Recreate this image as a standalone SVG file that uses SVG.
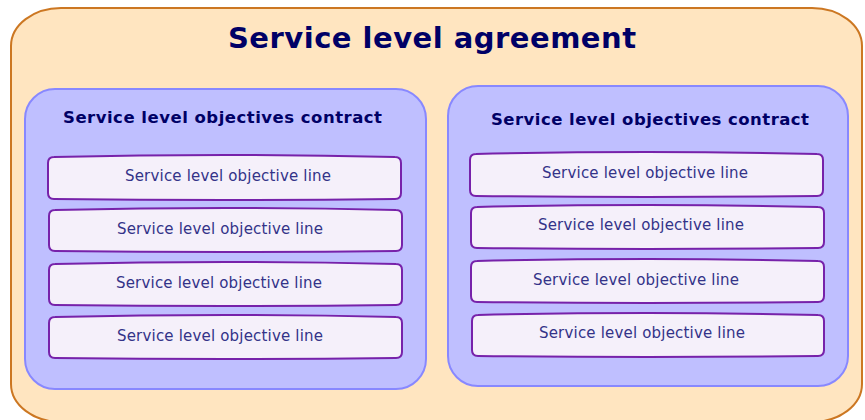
<svg xmlns="http://www.w3.org/2000/svg" width="865" height="420" viewBox="0 0 865 420">
<style>
.outer{fill:#FFE5C0;stroke:#CC7722;stroke-width:2}
.contract{fill:#BFBFFF;stroke:#8888FF;stroke-width:2}
.line{fill:#F5F0FA;stroke:#7722AA;stroke-width:2}
.t1{font-family:"DejaVu Sans",Verdana,sans-serif;font-weight:bold;font-size:29px;fill:#000066;text-anchor:middle}
.t2{font-family:"DejaVu Sans",Verdana,sans-serif;font-weight:bold;font-size:16.5px;fill:#000066;text-anchor:middle}
.t3{font-family:"DejaVu Sans",Verdana,sans-serif;font-size:15px;fill:#333388;text-anchor:middle}
</style>
<g id="sla">
<rect class="outer" x="11" y="8" width="851" height="414" rx="50" ry="38"/>
<text class="t1" x="432" y="48" textLength="408" lengthAdjust="spacing">Service level agreement</text>
</g>
<g id="contract1">
<rect class="contract" x="25" y="89" width="401" height="300" rx="30" ry="30"/>
<text class="t2" x="222.5" y="123" textLength="319" lengthAdjust="spacing">Service level objectives contract</text>
</g>
<g id="contract2">
<rect class="contract" x="448" y="86" width="400" height="300" rx="30" ry="30"/>
<text class="t2" x="650" y="125" textLength="318" lengthAdjust="spacing">Service level objectives contract</text>
</g>
<g id="line-l1">
<path class="line" d="M48,163 Q48,157 54,157 Q224.5,153 395,157 Q401,157 401,163 L401,193 Q401,199 395,199 Q224.5,201 54,199 Q48,199 48,193 Z"/>
<text class="t3" x="228" y="181" textLength="206" lengthAdjust="spacing">Service level objective line</text>
</g>
<g id="line-l2">
<path class="line" d="M49,216 Q49,210 55,210 Q225.5,206 396,210 Q402,210 402,216 L402,245 Q402,251 396,251 Q225.5,253 55,251 Q49,251 49,245 Z"/>
<text class="t3" x="220" y="234" textLength="206" lengthAdjust="spacing">Service level objective line</text>
</g>
<g id="line-l3">
<path class="line" d="M49,270 Q49,264 55,264 Q225.5,260 396,264 Q402,264 402,270 L402,299 Q402,305 396,305 Q225.5,307 55,305 Q49,305 49,299 Z"/>
<text class="t3" x="219" y="288" textLength="206" lengthAdjust="spacing">Service level objective line</text>
</g>
<g id="line-l4">
<path class="line" d="M49,323 Q49,317 55,317 Q225.5,313 396,317 Q402,317 402,323 L402,352 Q402,358 396,358 Q225.5,360 55,358 Q49,358 49,352 Z"/>
<text class="t3" x="220" y="341" textLength="206" lengthAdjust="spacing">Service level objective line</text>
</g>
<g id="line-r1">
<path class="line" d="M470,160 Q470,154 476,154 Q646.5,150 817,154 Q823,154 823,160 L823,190 Q823,196 817,196 Q646.5,198 476,196 Q470,196 470,190 Z"/>
<text class="t3" x="645" y="178" textLength="206" lengthAdjust="spacing">Service level objective line</text>
</g>
<g id="line-r2">
<path class="line" d="M471,213 Q471,207 477,207 Q647.5,203 818,207 Q824,207 824,213 L824,242 Q824,248 818,248 Q647.5,250 477,248 Q471,248 471,242 Z"/>
<text class="t3" x="641" y="230" textLength="206" lengthAdjust="spacing">Service level objective line</text>
</g>
<g id="line-r3">
<path class="line" d="M471,267 Q471,261 477,261 Q647.5,257 818,261 Q824,261 824,267 L824,296 Q824,302 818,302 Q647.5,304 477,302 Q471,302 471,296 Z"/>
<text class="t3" x="636" y="285" textLength="206" lengthAdjust="spacing">Service level objective line</text>
</g>
<g id="line-r4">
<path class="line" d="M472,321 Q472,315 478,315 Q648,311 818,315 Q824,315 824,321 L824,350 Q824,356 818,356 Q648,358 478,356 Q472,356 472,350 Z"/>
<text class="t3" x="642" y="338" textLength="206" lengthAdjust="spacing">Service level objective line</text>
</g>
<g id="connectors"/>
</svg>
